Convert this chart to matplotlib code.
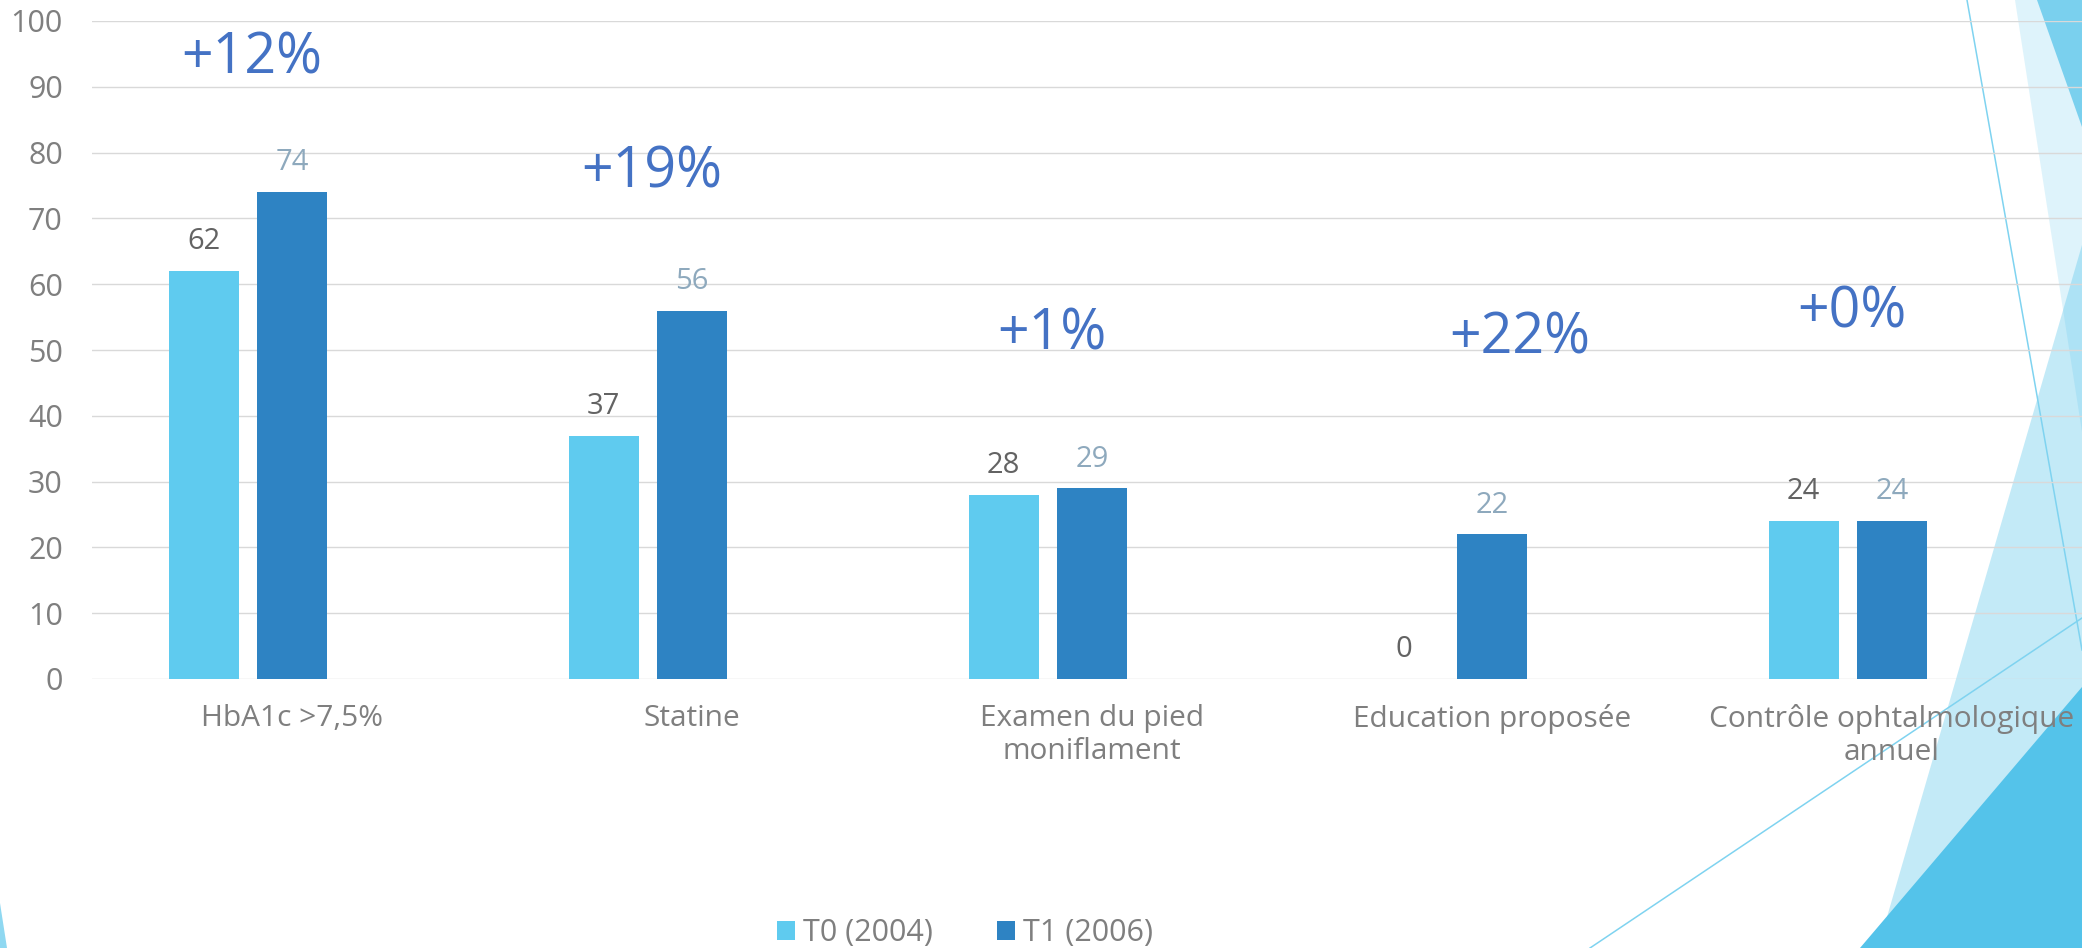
import matplotlib
matplotlib.use("Agg")
import matplotlib.pyplot as plt
from matplotlib.patches import Polygon
from matplotlib.lines import Line2D

# ── Data ──────────────────────────────────────────────────────────────────────
categories = ["HbA1c >7,5%", "Statine", "Examen du pied\nmoniflament",
              "Education proposée", "Contrôle ophtalmologique\nannuel"]
t0_values = [62, 37, 28, 0, 24]
t1_values = [74, 56, 29, 22, 24]
series_names = ["T0 (2004)", "T1 (2006)"]
y_ticks = [0, 10, 20, 30, 40, 50, 60, 70, 80, 90, 100]

# where the "+x%" callouts sit (offset from category centre, height on y axis)
delta_dx = [-0.10, -0.10, -0.10, 0.07, -0.10]
delta_y = [94.2, 76.9, 52.3, 51.7, 55.6]

# ── Style ─────────────────────────────────────────────────────────────────────
C_T0 = "#5FCBEF"
C_T1 = "#2E83C3"
C_GRID = "#D9D9D9"
C_TEXT = "#7F7F7F"
C_LAB0 = "#636363"
C_LAB1 = "#8EA9BD"
C_DELTA = "#4472C4"
C_DECO = "#54C3EA"

plt.rcParams["font.family"] = ["Open Sans", "DejaVu Sans"]

W, H = 2082, 948
fig = plt.figure(figsize=(W / 100, H / 100), dpi=100)


def fx(px):
    return px / W


def fy(py):
    return 1 - py / H


# ── Background decoration (slide theme facets) ────────────────────────────────
def facet(pts, color, alpha=1.0):
    fig.add_artist(Polygon([(fx(x), fy(y)) for x, y in pts], closed=True,
                           transform=fig.transFigure, facecolor=color,
                           edgecolor="none", alpha=alpha, zorder=-10))


def thin(p0, p1):
    fig.add_artist(Line2D([fx(p0[0]), fx(p1[0])], [fy(p0[1]), fy(p1[1])],
                          transform=fig.transFigure, color="#7FD3F0",
                          lw=1.1, zorder=-9))


facet([(2015, 0), (2082, 0), (2082, 432)], C_DECO, 0.19)
facet([(2037, 0), (2082, 0), (2082, 127)], C_DECO, 0.72)
facet([(2082, 245), (1878, 948), (2082, 948)], C_DECO, 0.35)
facet([(1860, 948), (2082, 687), (2082, 948)], C_DECO, 1.0)
facet([(0, 903), (7, 948), (0, 948)], "#8FD8F1", 1.0)
thin((1967, 0), (2082, 650))
thin((1590, 948), (2082, 618))

# ── Chart ─────────────────────────────────────────────────────────────────────
ax = fig.add_axes([fx(92), fy(679), fx(W - 92), (679 - 21) / H])
ax.set_facecolor("none")

x = list(range(len(categories)))
bw = 0.175
step = 0.221
b0 = ax.bar([i - step for i in x], t0_values, bw, color=C_T0, label=series_names[0], zorder=3)
b1 = ax.bar(x, t1_values, bw, color=C_T1, label=series_names[1], zorder=3)

for rect, v in zip(b0, t0_values):
    ax.annotate(str(v), (rect.get_x() + rect.get_width() / 2, v), xytext=(0, 21),
                textcoords="offset points", ha="center", va="center",
                fontsize=21, color=C_LAB0)
for rect, v in zip(b1, t1_values):
    ax.annotate(str(v), (rect.get_x() + rect.get_width() / 2, v), xytext=(0, 21),
                textcoords="offset points", ha="center", va="center",
                fontsize=21, color=C_LAB1)

for i, (a, b) in enumerate(zip(t0_values, t1_values)):
    ax.text(i + delta_dx[i], delta_y[i], f"+{b - a}%", ha="center", va="center",
            fontsize=40, color=C_DELTA)

ax.set_xlim(-0.5, -0.5 + (W - 92) / 400)
ax.set_ylim(0, 100)
ax.set_yticks(y_ticks)
ax.set_xticks(x)
ax.set_xticklabels(categories)
ax.tick_params(axis="y", length=0, pad=21, labelsize=22, labelcolor=C_TEXT)
ax.tick_params(axis="x", length=0, pad=18, labelsize=21.5, labelcolor=C_TEXT)
ax.grid(axis="y", color=C_GRID, lw=1.0, zorder=0)
ax.set_axisbelow(True)
for s in ax.spines.values():
    s.set_visible(False)

fig.legend(handles=[b0, b1], loc="center", bbox_to_anchor=(fx(965), fy(933)),
           ncol=2, frameon=False, fontsize=22, labelcolor=C_TEXT,
           handlelength=0.6, handleheight=0.6, handletextpad=0.25,
           columnspacing=2.1)

fig.savefig("out.png", dpi=100)
